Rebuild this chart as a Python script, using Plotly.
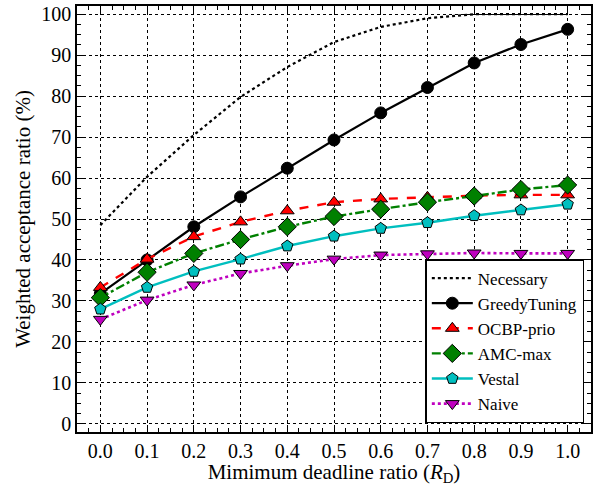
import plotly.graph_objects as go

x_vals = [0.0, 0.1, 0.2, 0.3, 0.4, 0.5, 0.6, 0.7, 0.8, 0.9, 1.0]
necessary = [48.5, 60.3, 70.5, 79.8, 87.1, 93.2, 96.9, 99.0, 100.0, 100.0, 100.0]
greedy = [31.8, 40.0, 48.1, 55.4, 62.4, 69.3, 75.9, 82.1, 88.1, 92.6, 96.3]
ocbp = [33.3, 40.2, 45.7, 49.3, 52.0, 54.1, 54.9, 55.3, 55.7, 55.9, 55.9]
amc = [30.8, 37.0, 41.6, 45.0, 48.1, 50.6, 52.4, 54.1, 55.6, 57.2, 58.3]
vestal = [28.0, 33.3, 37.2, 40.2, 43.4, 45.8, 47.7, 49.1, 50.8, 52.2, 53.6]
naive = [25.5, 30.2, 33.9, 36.7, 38.6, 40.2, 41.2, 41.5, 41.7, 41.6, 41.6]

x_ticks = [0.0, 0.1, 0.2, 0.3, 0.4, 0.5, 0.6, 0.7, 0.8, 0.9, 1.0]
x_ticktext = ["0.0", "0.1", "0.2", "0.3", "0.4", "0.5", "0.6", "0.7", "0.8", "0.9", "1.0"]
y_ticks = [0, 10, 20, 30, 40, 50, 60, 70, 80, 90, 100]

FONT = "Liberation Serif"

fig = go.Figure()

fig.add_trace(go.Scatter(x=x_vals, y=necessary, name="Necessary", mode="lines",
                         line=dict(color="black", width=2.2, dash="dot")))
fig.add_trace(go.Scatter(x=x_vals, y=greedy, name="GreedyTuning", mode="lines+markers",
                         line=dict(color="black", width=2.2),
                         marker=dict(symbol="circle", size=12, color="black",
                                     line=dict(color="black", width=1))))
fig.add_trace(go.Scatter(x=x_vals, y=ocbp, name="OCBP-prio", mode="lines+markers",
                         line=dict(color="#ff0000", width=2.4, dash="dash"),
                         marker=dict(symbol="triangle-up", size=12, color="#ff0000",
                                     line=dict(color="black", width=1))))
fig.add_trace(go.Scatter(x=x_vals, y=amc, name="AMC-max", mode="lines+markers",
                         line=dict(color="#008000", width=2.4, dash="dashdot"),
                         marker=dict(symbol="diamond", size=14, color="#008000",
                                     line=dict(color="black", width=1))))
fig.add_trace(go.Scatter(x=x_vals, y=vestal, name="Vestal", mode="lines+markers",
                         line=dict(color="#00bfbf", width=2.4),
                         marker=dict(symbol="pentagon", size=12, color="#00bfbf",
                                     line=dict(color="black", width=1))))
fig.add_trace(go.Scatter(x=x_vals, y=naive, name="Naive", mode="lines+markers",
                         line=dict(color="#bf00bf", width=2.6, dash="dot"),
                         marker=dict(symbol="triangle-down", size=12, color="#bf00bf",
                                     line=dict(color="black", width=1))))

axis_common = dict(
    showline=True, linecolor="black", linewidth=1.6, mirror="allticks",
    ticks="inside", ticklen=7, tickwidth=1, tickcolor="black",
    showgrid=True, gridcolor="black", gridwidth=1, griddash="dot",
    zeroline=False,
    tickfont=dict(family=FONT, size=20, color="black"),
)

fig.update_xaxes(
    range=[-0.05, 1.05], tickmode="array", tickvals=x_ticks, ticktext=x_ticktext,
    minor=dict(ticks="inside", ticklen=4, tickcolor="black", tickwidth=1, dtick=0.025,
               tick0=0, showgrid=False),
    title=dict(text="Mimimum deadline ratio (<i>R</i><sub>D</sub>)",
               font=dict(family=FONT, size=21, color="black"), standoff=4),
    **axis_common,
)
fig.update_yaxes(
    range=[-2, 102], tickmode="array", tickvals=y_ticks,
    minor=dict(ticks="inside", ticklen=4, tickcolor="black", tickwidth=1, dtick=2.5,
               tick0=0, showgrid=False),
    title=dict(text="Weighted acceptance ratio (%)",
               font=dict(family=FONT, size=21, color="black"), standoff=5),
    **axis_common,
)

fig.update_layout(
    width=594, height=486,
    margin=dict(l=77, r=3, t=6, b=54, autoexpand=False),
    paper_bgcolor="white", plot_bgcolor="white",
    font=dict(family=FONT, size=19, color="black"),
    legend=dict(
        x=0.987, y=0.021, xanchor="right", yanchor="bottom",
        bgcolor="white", bordercolor="black", borderwidth=1.5,
        font=dict(family=FONT, size=17, color="black"),
        itemwidth=41, tracegroupgap=0,
    ),
    showlegend=True,
)

fig.write_html("out.html", post_script="document.body.style.margin='0';",
               config={"displayModeBar": False})
